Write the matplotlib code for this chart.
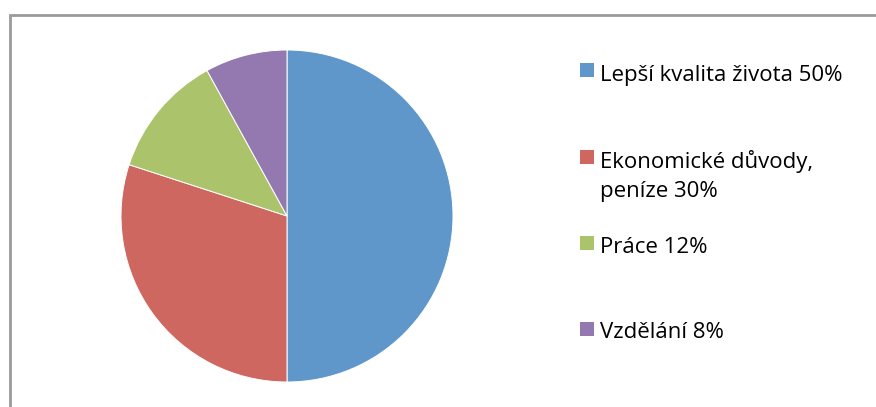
import matplotlib.pyplot as plt
from matplotlib.patches import Rectangle

# data
labels = ["Lepší kvalita života 50%", "Ekonomické důvody,\npeníze 30%",
          "Práce 12%", "Vzdělání 8%"]
values = [50, 30, 12, 8]
colors = ["#5F97CB", "#CD6760", "#ABC46B", "#9379B0"]

plt.rcParams['font.family'] = ['Open Sans', 'DejaVu Sans']

W, H = 876, 407
fig = plt.figure(figsize=(W / 100, H / 100), dpi=100)

# outer chart frame (runs off right / bottom edge)
fig.patches.append(Rectangle((10 / W, -0.05), 1.0, (H - 15) / H + 0.05,
                             transform=fig.transFigure, fill=False,
                             edgecolor="#9A9A9A", linewidth=2))

ax = fig.add_axes([121 / W, 25 / H, 332 / W, 332 / H])
ax.pie(values, colors=colors, startangle=90, counterclock=False,
       wedgeprops=dict(edgecolor="white", linewidth=0.7))
ax.set_xlim(-1, 1)
ax.set_ylim(-1, 1)
ax.set_aspect("equal")

# legend, drawn by hand to match the uneven spacing
square_y = [70, 157, 243, 329]
baseline_y = [81, 168, 253, 338]
for lab, col, sy, by in zip(labels, colors, square_y, baseline_y):
    fig.patches.append(Rectangle((580 / W, 1 - (sy + 7) / H), 14 / W, 14 / H,
                                 transform=fig.transFigure,
                                 facecolor=col, edgecolor="none"))
    for i, line in enumerate(lab.split("\n")):
        fig.text(600 / W, 1 - (by + 29 * i) / H, line, ha="left",
                 va="baseline", fontsize=16, color="black")

fig.savefig("out.png", dpi=100)
